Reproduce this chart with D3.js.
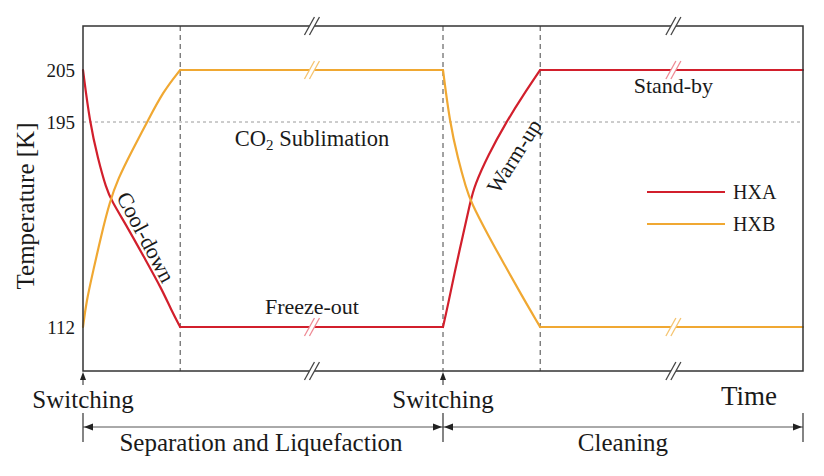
<!DOCTYPE html>
<html><head><meta charset="utf-8">
<script src="https://cdn.jsdelivr.net/npm/d3@7"></script>
<style>
html,body{margin:0;padding:0;background:#fff;}
text{font-family:"Liberation Serif","Times New Roman",serif;fill:#1a1a1a;}
</style></head>
<body><svg id="c" width="824" height="476"></svg>
<script>
// ---- data ----
const phaseBounds = [0, 1.35, 5.0, 6.35, 10];
const hxaTime = [0, 0.093, 0.208, 0.324, 0.393, 0.625, 0.857, 1.088, 1.226, 1.35,
                 5.0, 5.069, 5.163, 5.278, 5.382, 5.44, 5.625, 5.879, 6.111, 6.35, 10];
const hxaTemp = [205, 195, 180.1, 168.0, 163.3, 152.0, 139.8, 127.7, 118.9, 112,
                 112, 120.9, 134.4, 149.2, 163.0, 169.4, 181.5, 195, 200.1, 205, 205];
const hxbTime = [0, 0.046, 0.139, 0.254, 0.371, 0.486, 0.671, 0.903, 1.111, 1.35,
                 5.0, 5.093, 5.208, 5.324, 5.382, 5.625, 5.857, 6.088, 6.319, 6.35, 10];
const hxbTemp = [112, 122.2, 134.4, 149.2, 162.7, 172.0, 182.9, 195.3, 200.8, 205,
                 205, 195, 180.1, 168.0, 163.0, 149.2, 137.1, 125.0, 113.5, 112, 112];
const yTicks = [112, 195, 205];
const seriesNames = ["HXA", "HXB"];
const seriesColors = ["#d21f2c", "#f0a832"];
const breakTimes = [3.18, 8.2];
const switchTimes = [0, 5.0];

// ---- layout ----
const W = 824, H = 476;
const m = {l: 83, t: 26, r: 21, b: 105};
const iw = W - m.l - m.r, ih = H - m.t - m.b;
const svg = d3.select("#c");
const g = svg.append("g").attr("transform", `translate(${m.l},${m.t})`);

const x = d3.scaleLinear().domain([0, 10]).range([0, iw]);
const y = d3.scaleLinear().domain([112, 195, 205]).range([ih * 0.8725, ih * 0.2783, ih * 0.1275]);

// reference lines
g.append("line").attr("x1", 0).attr("x2", iw).attr("y1", y(195)).attr("y2", y(195))
  .attr("stroke", "#9a9a9a").attr("stroke-width", 1).attr("stroke-dasharray", "3,3");
phaseBounds.slice(1, 4).forEach(t => {
  g.append("line").attr("x1", x(t)).attr("x2", x(t)).attr("y1", 0).attr("y2", ih)
    .attr("stroke", "#444").attr("stroke-width", 1).attr("stroke-dasharray", "5,4");
});

// series
const series = [
  {name: seriesNames[0], color: seriesColors[0], pts: hxaTime.map((t, i) => ({t, v: hxaTemp[i]}))},
  {name: seriesNames[1], color: seriesColors[1], pts: hxbTime.map((t, i) => ({t, v: hxbTemp[i]}))}
];
const line = d3.line().x(d => x(d.t)).y(d => y(d.v)).curve(d3.curveBasis);
series.forEach(s => {
  for (let k = 0; k < phaseBounds.length - 1; k++) {
    const a = phaseBounds[k], b = phaseBounds[k + 1];
    const seg = s.pts.filter(p => p.t >= a - 1e-9 && p.t <= b + 1e-9);
    g.append("path").attr("d", line(seg)).attr("fill", "none")
      .attr("stroke", s.color).attr("stroke-width", 2.2).attr("stroke-linejoin", "round").attr("stroke-linecap", "round");
  }
});

// frame
g.append("rect").attr("x", 0).attr("y", 0).attr("width", iw).attr("height", ih)
  .attr("fill", "none").attr("stroke", "#333").attr("stroke-width", 1.5);

// break marks
function breakMark(cx, cy, col) {
  const dx = 5, hh = 9, gap = 2.5;
  g.append("path")
    .attr("d", `M${cx - gap - dx},${cy + hh} L${cx - gap + dx},${cy - hh} L${cx + gap + dx},${cy - hh} L${cx + gap - dx},${cy + hh} Z`)
    .attr("fill", "#fff");
  [-gap, gap].forEach(o => {
    g.append("line").attr("x1", cx + o - dx).attr("y1", cy + hh).attr("x2", cx + o + dx).attr("y2", cy - hh)
      .attr("stroke", col).attr("stroke-width", 1.3);
  });
}
breakTimes.forEach(t => {
  breakMark(x(t), 0, "#444");
  breakMark(x(t), ih, "#444");
});
breakMark(x(breakTimes[0]), y(205), "#f5c470");
breakMark(x(breakTimes[0]), y(112), "#ee8a94");
breakMark(x(breakTimes[1]), y(205), "#ee8a94");
breakMark(x(breakTimes[1]), y(112), "#f5c470");

// y axis ticks
const yAxis = d3.axisLeft(y).tickValues(yTicks).tickSize(0).tickPadding(8).tickFormat(d3.format("d"));
const ya = g.append("g").call(yAxis);
ya.select(".domain").remove();
ya.attr("font-family", null).attr("font-size", null);
ya.selectAll("text").attr("font-size", 19).attr("fill", "#1a1a1a");

// y title
svg.append("text").attr("transform", `translate(25,${m.t + 180}) rotate(-90)`)
  .attr("text-anchor", "middle").attr("dominant-baseline", "central").attr("font-size", 25).text("Temperature [K]");

// annotations inside
function ann(t, v, str, size, rot, ox, oy) {
  return g.append("text").attr("transform", `translate(${x(t) + (ox || 0)},${y(v) + (oy || 0)}) rotate(${rot || 0})`)
    .attr("text-anchor", "middle").attr("dominant-baseline", "central").attr("font-size", size).text(str);
}
const co2 = g.append("text").attr("x", x(3.18)).attr("y", y(195) + 24).attr("text-anchor", "middle").attr("font-size", 22.5);
co2.append("tspan").text("CO");
co2.append("tspan").attr("font-size", 15).attr("dy", 4).text("2");
co2.append("tspan").attr("dy", -4).text(" Sublimation");
g.append("text").attr("x", x(3.18)).attr("y", y(112) - 13).attr("text-anchor", "middle").attr("font-size", 22).text("Freeze-out");
g.append("text").attr("x", x(8.2)).attr("y", y(205) + 23).attr("text-anchor", "middle").attr("font-size", 22).text("Stand-by");
ann(0.79, 147.2, "Cool-down", 22, 62, 6, -3);
ann(5.958, 181.6, "Warm-up", 22, -58, 2, 1);

// legend
series.forEach((s, i) => {
  const ly = y(195) + 70 + i * 32;
  g.append("line").attr("x1", iw - 156).attr("x2", iw - 78).attr("y1", ly).attr("y2", ly)
    .attr("stroke", s.color).attr("stroke-width", 2.2);
  g.append("text").attr("x", iw - 70).attr("y", ly + 7).attr("font-size", 20).text(s.name);
});

// switching arrows
switchTimes.forEach(t => {
  const px = x(t);
  g.append("line").attr("x1", px).attr("x2", px).attr("y1", ih + 14).attr("y2", ih + 6)
    .attr("stroke", "#222").attr("stroke-width", 1);
  g.append("path").attr("d", `M${px},${ih + 1} L${px - 3},${ih + 9} L${px + 3},${ih + 9} Z`).attr("fill", "#222");
  g.append("text").attr("x", px).attr("y", ih + 37).attr("text-anchor", "middle").attr("font-size", 25).text("Switching");
});
g.append("text").attr("x", x(9.25)).attr("y", ih + 34).attr("text-anchor", "middle").attr("font-size", 27).text("Time");

// bracket
const by = ih + 56;
g.append("line").attr("x1", x(0)).attr("x2", x(10)).attr("y1", by).attr("y2", by).attr("stroke", "#555").attr("stroke-width", 1);
[0, 5.0, 10].forEach(t => {
  g.append("line").attr("x1", x(t)).attr("x2", x(t)).attr("y1", by - 14).attr("y2", by + 15).attr("stroke", "#333").attr("stroke-width", 1.2);
});
function arrowHead(tipX, dir) {
  g.append("path").attr("d", `M${tipX},${by} L${tipX - dir * 9},${by - 3.5} L${tipX - dir * 9},${by + 3.5} Z`).attr("fill", "#222");
}
arrowHead(x(0) + 1, -1);
arrowHead(x(5.0) - 1, 1);
arrowHead(x(5.0) + 1, -1);
arrowHead(x(10) - 1, 1);
g.append("text").attr("x", x(2.5) - 2).attr("y", by + 24).attr("text-anchor", "middle").attr("font-size", 25).text("Separation and Liquefaction");
g.append("text").attr("x", x(7.5)).attr("y", by + 24).attr("text-anchor", "middle").attr("font-size", 25).text("Cleaning");
</script></body></html>
